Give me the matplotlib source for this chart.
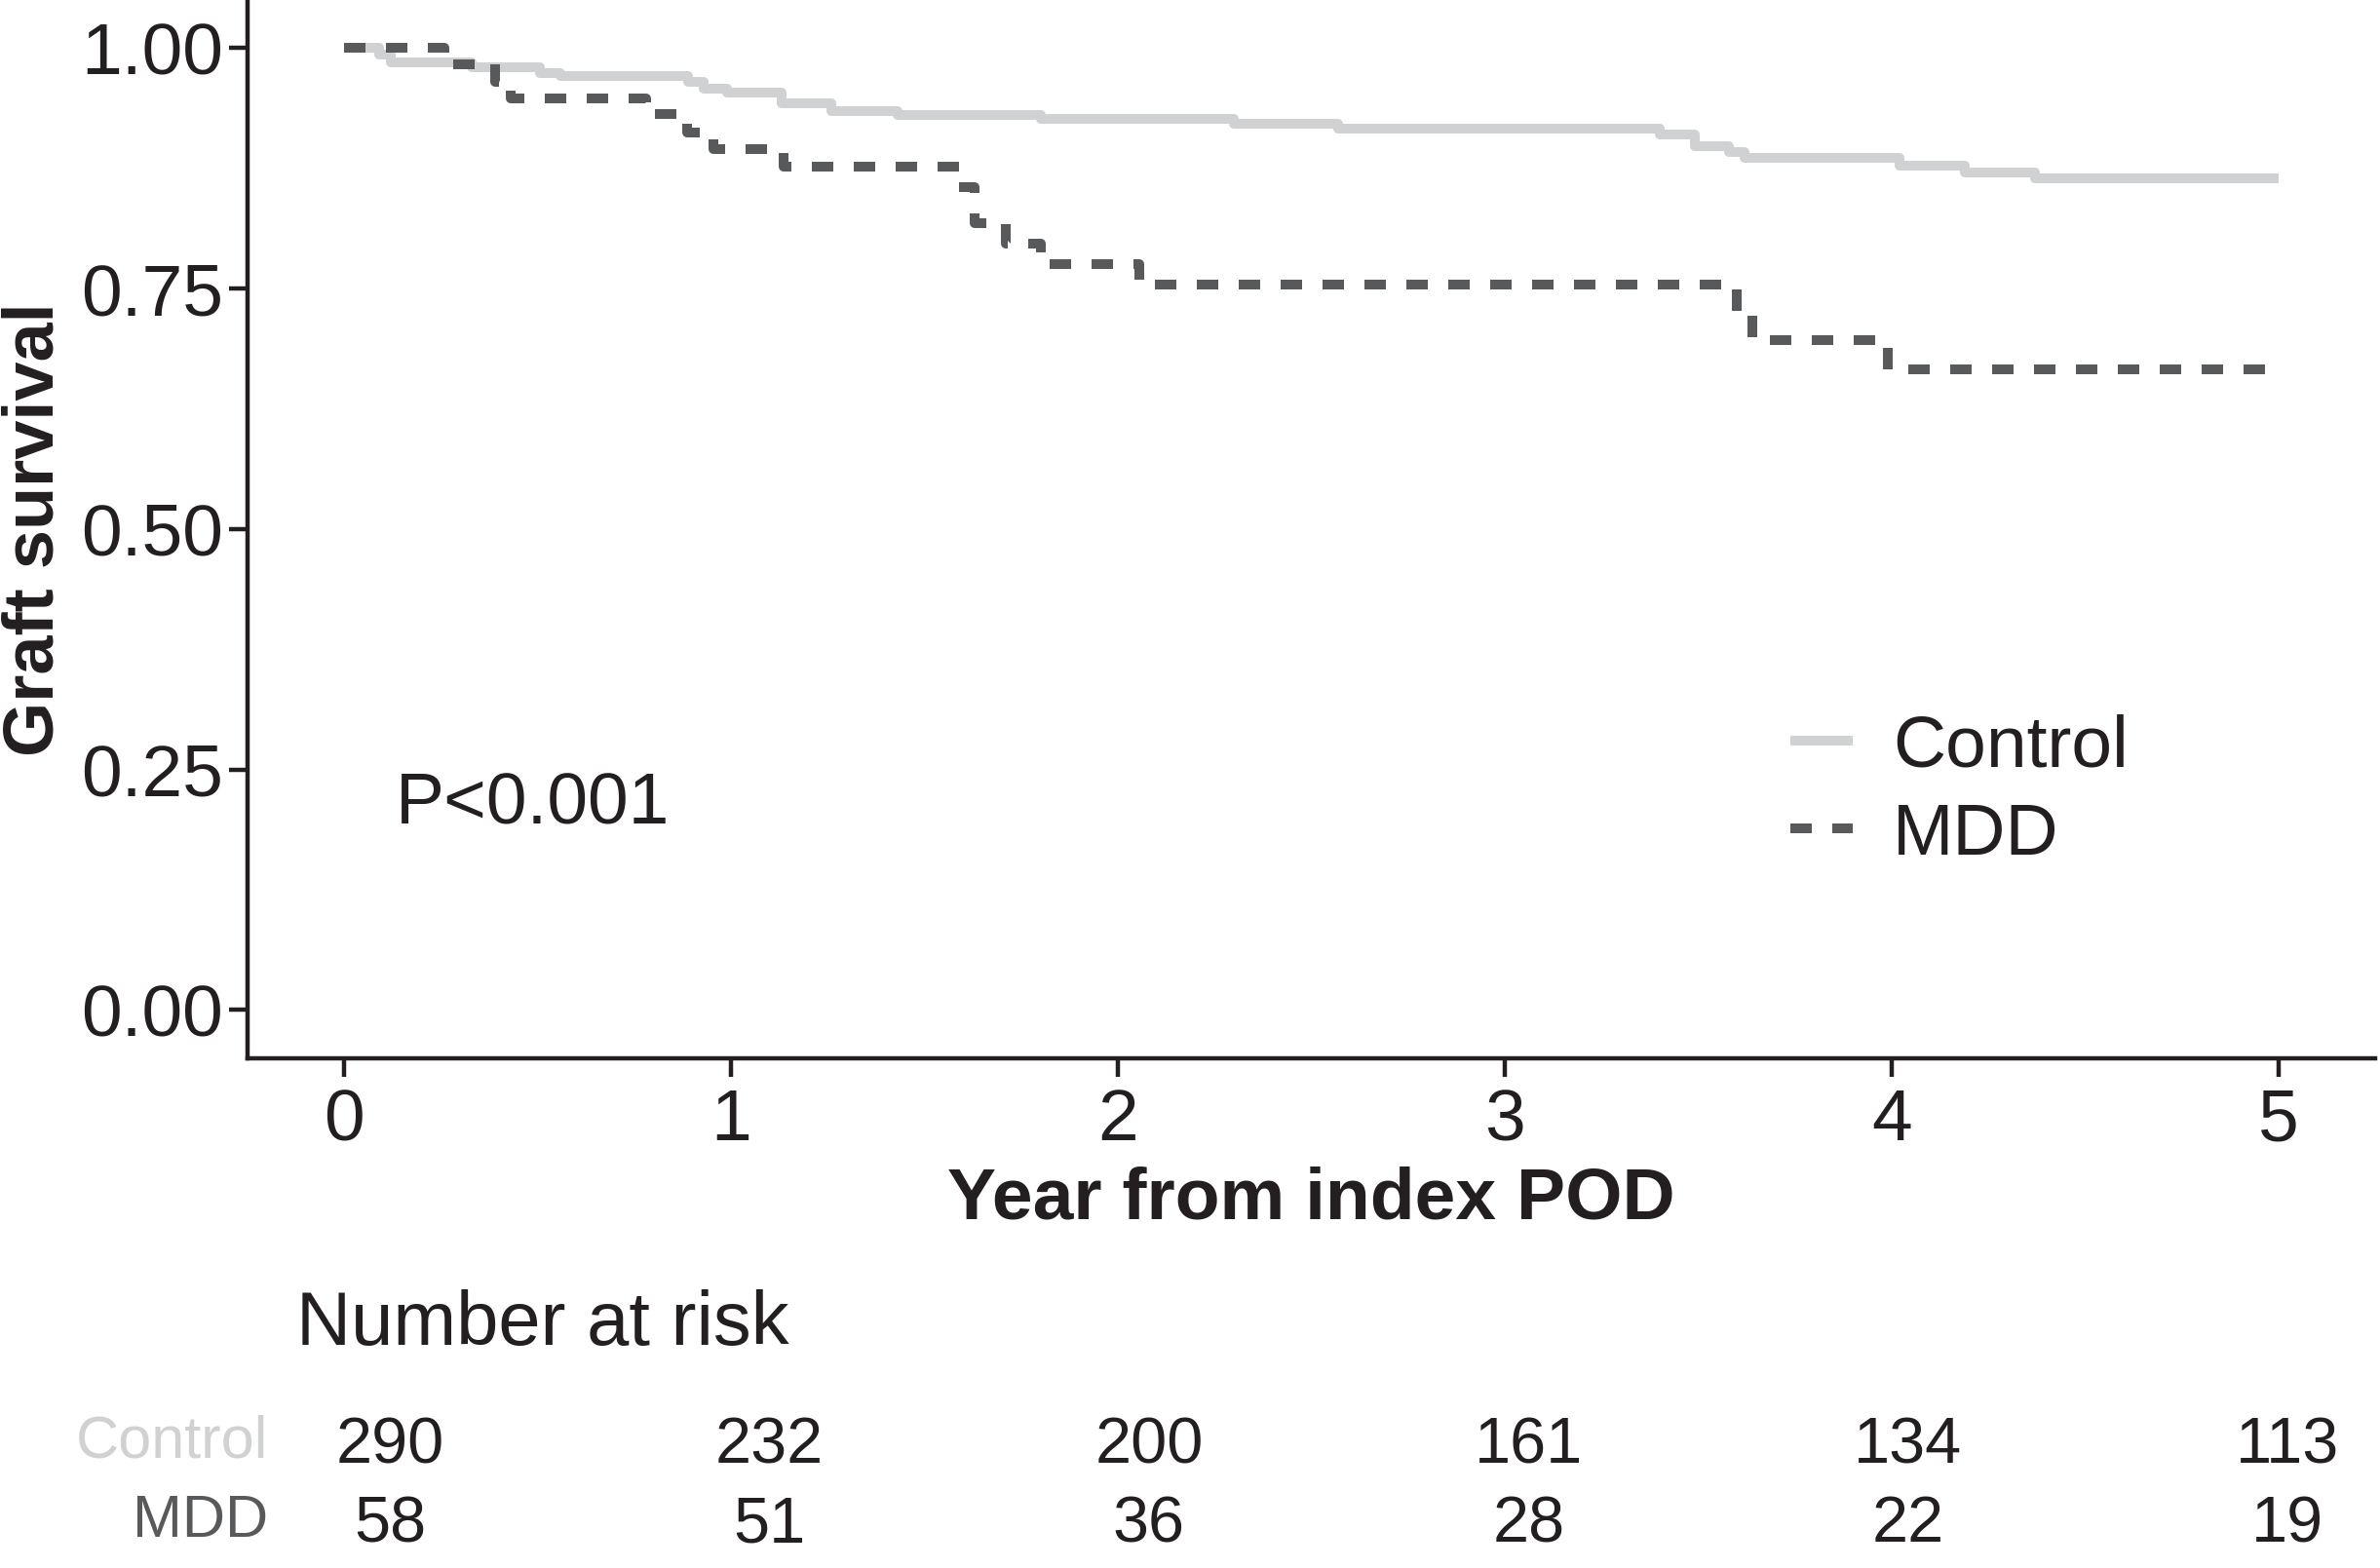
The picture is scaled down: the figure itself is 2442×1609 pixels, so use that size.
import numpy as np
import matplotlib
matplotlib.use("Agg")
import matplotlib.pyplot as plt

plt.rcParams["font.family"] = ["Liberation Sans", "DejaVu Sans"]

# Kaplan-Meier steps
control_t = [0, 0.09, 0.12, 0.33, 0.505, 0.56, 0.89, 0.93, 0.99, 1.13, 1.26, 1.43,
             1.80, 2.30, 2.57, 3.40, 3.49, 3.58, 3.62, 4.02, 4.19, 4.37, 5.0]
control_s = [1.0, 0.993, 0.985, 0.980, 0.974, 0.971, 0.965, 0.958, 0.954, 0.943, 0.934, 0.930,
             0.926, 0.921, 0.916, 0.910, 0.898, 0.892, 0.886, 0.878, 0.871, 0.865, 0.865]

mdd_t = [0, 0.26, 0.39, 0.43, 0.78, 0.886, 0.954, 1.135, 1.59, 1.63, 1.71, 1.80,
         2.055, 3.60, 3.64, 3.99, 5.0]
mdd_s = [1.0, 0.983, 0.965, 0.948, 0.931, 0.912, 0.895, 0.877, 0.855, 0.818, 0.797, 0.775,
         0.754, 0.727, 0.696, 0.666, 0.666]

years = [0, 1, 2, 3, 4, 5]
risk_control = [290, 232, 200, 161, 134, 113]
risk_mdd = [58, 51, 36, 28, 22, 19]
groups = ["Control", "MDD"]

col_control = "#d0d1d3"
col_mdd = "#58595b"
txt = "#231f20"
fs = 27

fig = plt.figure(figsize=(12.21, 8.045), dpi=200)
ax = fig.add_axes([0.104, 0.3253, 0.894, 0.6747])

ax.step(control_t, control_s, where="post", color=col_control, lw=3.6,
        solid_capstyle="butt", label="Control")
ax.step(mdd_t, mdd_s, where="post", color=col_mdd, lw=3.6,
        linestyle=(0, (2.2, 2.1)), dash_capstyle="butt", label="MDD")

ax.set_xlim(-0.25, 5.25)
ax.set_ylim(-0.05, 1.05)
ax.set_xticks(years)
ax.set_yticks([0, 0.25, 0.5, 0.75, 1.0])
ax.set_yticklabels(["0.00", "0.25", "0.50", "0.75", "1.00"])
for s in ["top", "right"]:
    ax.spines[s].set_visible(False)
for s in ["left", "bottom"]:
    ax.spines[s].set_linewidth(1.6)
    ax.spines[s].set_color(txt)
ax.tick_params(axis="both", labelsize=fs, colors=txt, width=1.6, length=7)
ax.tick_params(axis="y", pad=2)
ax.tick_params(axis="x", pad=4)

ax.set_xlabel("Year from index POD", fontsize=fs, fontweight="bold", color=txt, labelpad=4)
ax.set_ylabel("Graft survival", fontsize=26, fontweight="bold", color=txt, labelpad=5)

ax.text(0.133, 0.213, "P<0.001", fontsize=fs, color=txt, ha="left", va="center")

leg = ax.legend(loc="center left", bbox_to_anchor=(0.725, 0.252), frameon=False,
                fontsize=fs, handlelength=0.85, handletextpad=0.55, labelspacing=0.28,
                borderpad=0, borderaxespad=0)
for t in leg.get_texts():
    t.set_color(txt)

# number at risk table
tab = fig.add_axes([0.124, 0.0, 0.876, 0.1868])
tab.set_xlim(-0.25, 5.244)
tab.set_ylim(1.54, -2.17)
tab.axis("off")
tab.text(-0.248, -1.54, "Number at risk", fontsize=28, color=txt, ha="left", va="center")
for row, (name, vals, c) in enumerate(zip(groups, [risk_control, risk_mdd], [col_control, col_mdd])):
    tab.text(-0.32, row - 0.05, name, fontsize=22, color=c, ha="right", va="center")
    for x, v in zip(years, vals):
        tab.text(x, row, str(v), fontsize=24, color=txt, ha="center", va="center")

fig.savefig("out.png", dpi=200)
